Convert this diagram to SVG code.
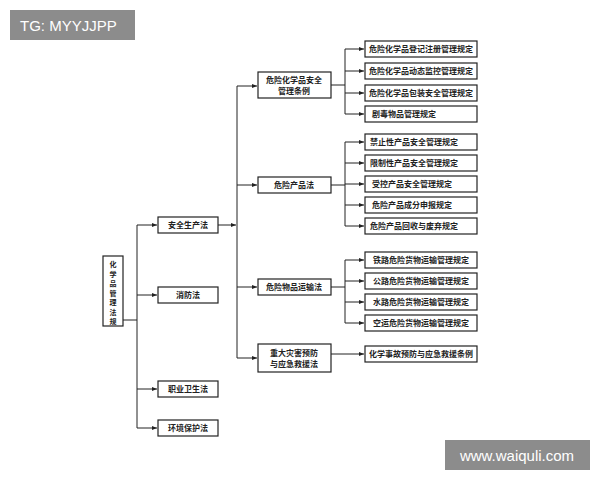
<svg xmlns="http://www.w3.org/2000/svg" width="600" height="480" viewBox="0 0 600 480">
<style>
.b{fill:#fff;stroke:#222;stroke-width:1.2}
.t{font-family:"Noto Sans CJK SC","Liberation Serif",serif;font-size:8px;font-weight:bold;fill:#222;text-anchor:middle}
.r{font-size:7px}
.c{fill:none;stroke:#222;stroke-width:1}
</style>
<defs><marker id="a" markerWidth="6" markerHeight="6" refX="5" refY="3" orient="auto"><path d="M0,1 L5,3 L0,5z" fill="#222"/></marker></defs>
<rect width="600" height="480" fill="#fff"/>
<g id="connectors">
<path class="c" d="M123,320 H137 M137,225 V428"/>
<path class="c" marker-end="url(#a)" d="M137,225 H157"/>
<path class="c" marker-end="url(#a)" d="M137,295 H157"/>
<path class="c" marker-end="url(#a)" d="M137,389 H157"/>
<path class="c" marker-end="url(#a)" d="M137,428 H157"/>
<path class="c" marker-end="url(#a)" d="M218,225 H236"/>
<path class="c" d="M237,86 V358"/>
<path class="c" marker-end="url(#a)" d="M237,86 H257"/>
<path class="c" marker-end="url(#a)" d="M237,185 H257"/>
<path class="c" marker-end="url(#a)" d="M237,287 H257"/>
<path class="c" marker-end="url(#a)" d="M237,358 H257"/>
<path class="c" d="M331,85 H345 M345,49 V114"/>
<path class="c" marker-end="url(#a)" d="M345,49 H364"/>
<path class="c" marker-end="url(#a)" d="M345,71 H364"/>
<path class="c" marker-end="url(#a)" d="M345,93 H364"/>
<path class="c" marker-end="url(#a)" d="M345,114 H364"/>
<path class="c" d="M331,185 H345 M345,142 V226"/>
<path class="c" marker-end="url(#a)" d="M345,142 H364"/>
<path class="c" marker-end="url(#a)" d="M345,163 H364"/>
<path class="c" marker-end="url(#a)" d="M345,184 H364"/>
<path class="c" marker-end="url(#a)" d="M345,205 H364"/>
<path class="c" marker-end="url(#a)" d="M345,226 H364"/>
<path class="c" d="M331,287 H345 M345,260 V323"/>
<path class="c" marker-end="url(#a)" d="M345,260 H364"/>
<path class="c" marker-end="url(#a)" d="M345,281 H364"/>
<path class="c" marker-end="url(#a)" d="M345,302 H364"/>
<path class="c" marker-end="url(#a)" d="M345,323 H364"/>
<path class="c" marker-end="url(#a)" d="M331,354 H364"/>
</g>
<g id="root"><rect class="b" x="103" y="256" width="20" height="70"/>
<text class="t r" x="113" y="267">化</text><text class="t r" x="113" y="276.5">学</text><text class="t r" x="113" y="286">品</text><text class="t r" x="113" y="295.5">管</text><text class="t r" x="113" y="305">理</text><text class="t r" x="113" y="314.5">法</text><text class="t r" x="113" y="324">规</text></g>
<g id="n1"><rect class="b" x="158" y="217" width="60" height="16"/><text class="t" x="188" y="228">安全生产法</text></g>
<g id="n2"><rect class="b" x="158" y="287" width="60" height="16"/><text class="t" x="188" y="298">消防法</text></g>
<g id="n3"><rect class="b" x="158" y="381" width="60" height="16"/><text class="t" x="188" y="392">职业卫生法</text></g>
<g id="n4"><rect class="b" x="158" y="420" width="60" height="16"/><text class="t" x="188" y="431">环境保护法</text></g>
<g id="m1"><rect class="b" x="258" y="72" width="73" height="26"/><text class="t" x="294" y="83">危险化学品安全</text><text class="t" x="294" y="94">管理条例</text></g>
<g id="m2"><rect class="b" x="258" y="177" width="73" height="16"/><text class="t" x="294" y="188">危险产品法</text></g>
<g id="m3"><rect class="b" x="258" y="279" width="73" height="16"/><text class="t" x="294" y="290">危险物品运输法</text></g>
<g id="m4"><rect class="b" x="258" y="344" width="73" height="28"/><text class="t" x="294" y="356">重大灾害预防</text><text class="t" x="294" y="367">与应急救援法</text></g>
<g id="l1"><rect class="b" x="365" y="41" width="112" height="16"/><text class="t" x="421" y="52">危险化学品登记注册管理规定</text></g>
<g id="l2"><rect class="b" x="365" y="63" width="112" height="16"/><text class="t" x="421" y="74">危险化学品动态监控管理规定</text></g>
<g id="l3"><rect class="b" x="365" y="85" width="112" height="16"/><text class="t" x="421" y="96">危险化学品包装安全管理规定</text></g>
<g id="l4"><rect class="b" x="365" y="106" width="112" height="16"/><text class="t" x="404" y="117">剧毒物品管理规定</text></g>
<g id="l5"><rect class="b" x="365" y="134" width="112" height="16"/><text class="t" x="414" y="145">禁止性产品安全管理规定</text></g>
<g id="l6"><rect class="b" x="365" y="155" width="112" height="16"/><text class="t" x="414" y="166">限制性产品安全管理规定</text></g>
<g id="l7"><rect class="b" x="365" y="176" width="112" height="16"/><text class="t" x="412" y="187">受控产品安全管理规定</text></g>
<g id="l8"><rect class="b" x="365" y="197" width="112" height="16"/><text class="t" x="412" y="208">危险产品成分申报规定</text></g>
<g id="l9"><rect class="b" x="365" y="218" width="112" height="16"/><text class="t" x="414" y="229">危险产品回收与废弃规定</text></g>
<g id="l10"><rect class="b" x="365" y="252" width="112" height="16"/><text class="t" x="421" y="263">铁路危险货物运输管理规定</text></g>
<g id="l11"><rect class="b" x="365" y="273" width="112" height="16"/><text class="t" x="421" y="284">公路危险货物运输管理规定</text></g>
<g id="l12"><rect class="b" x="365" y="294" width="112" height="16"/><text class="t" x="421" y="305">水路危险货物运输管理规定</text></g>
<g id="l13"><rect class="b" x="365" y="315" width="112" height="16"/><text class="t" x="421" y="326">空运危险货物运输管理规定</text></g>
<g id="l14"><rect class="b" x="365" y="346" width="112" height="16"/><text class="t" x="421" y="357">化学事故预防与应急救援条例</text></g>
<g id="wm1"><rect x="10" y="10" width="125" height="30" fill="#8c8c8c"/><text x="20" y="31" font-family="Liberation Sans,sans-serif" font-size="15" fill="#fff">TG: MYYJJPP</text></g>
<g id="wm2"><rect x="445" y="440" width="145" height="30" fill="#8c8c8c"/><text x="517" y="461" text-anchor="middle" font-family="Liberation Sans,sans-serif" font-size="15" fill="#fff">www.waiquli.com</text></g>
</svg>
